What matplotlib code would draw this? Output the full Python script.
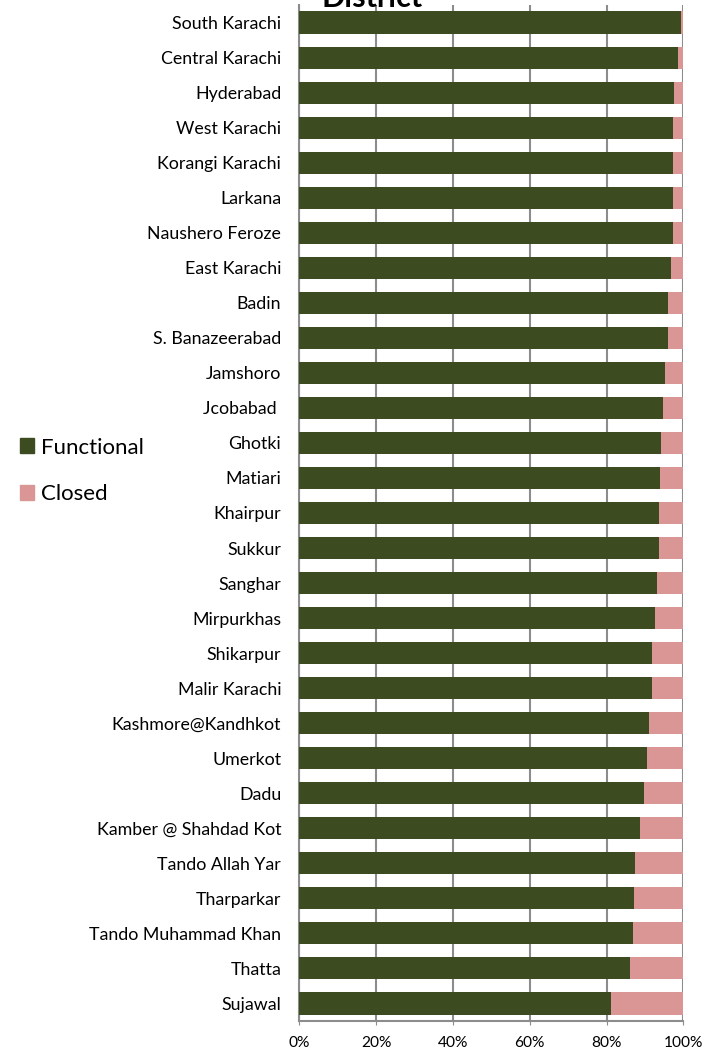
import matplotlib
matplotlib.use("Agg")
import matplotlib.pyplot as plt
from matplotlib.patches import Patch

districts = ["South Karachi", "Central Karachi", "Hyderabad", "West Karachi",
             "Korangi Karachi", "Larkana", "Naushero Feroze", "East Karachi",
             "Badin", "S. Banazeerabad", "Jamshoro", "Jcobabad ", "Ghotki",
             "Matiari", "Khairpur", "Sukkur", "Sanghar", "Mirpurkhas",
             "Shikarpur", "Malir Karachi", "Kashmore@Kandhkot", "Umerkot",
             "Dadu", "Kamber @ Shahdad Kot", "Tando Allah Yar", "Tharparkar",
             "Tando Muhammad Khan", "Thatta", "Sujawal"]
functional = [99.4, 98.7, 97.6, 97.4, 97.3, 97.3, 97.2, 96.8, 96.1, 96.0,
              95.2, 94.7, 94.2, 94.0, 93.8, 93.7, 93.1, 92.6, 91.8, 91.8,
              91.0, 90.5, 89.8, 88.8, 87.3, 87.1, 86.9, 86.1, 81.2]
closed = [100 - v for v in functional]

green = "#3D4B20"
pink = "#D99694"
grid_col = "#8C8C8C"

plt.rcParams["font.family"] = ["Lato", "DejaVu Sans"]

fig = plt.figure(figsize=(7.09, 10.52), dpi=100)
ax = fig.add_axes([299.3 / 709, 1 - 1021 / 1052, 384 / 709, (1021 - 5) / 1052])

y = list(range(len(districts)))
ax.barh(y, functional, height=0.63, color=green, zorder=3)
ax.barh(y, closed, left=functional, height=0.63, color=pink, zorder=3)

ax.set_ylim(len(districts) - 0.5, -0.5)
ax.set_xlim(0, 100)
ax.set_xticks(range(0, 101, 20))
ax.set_xticklabels([f"{t}%" for t in range(0, 101, 20)], fontsize=11.2)
ax.set_yticks(y)
ax.set_yticklabels(districts, fontsize=12.8)
ax.tick_params(axis="y", length=0, pad=13)
ax.tick_params(axis="x", length=3, color=grid_col, pad=8)

ax.grid(axis="x", color=grid_col, linewidth=1.5, zorder=0)
for s in ["top", "right"]:
    ax.spines[s].set_visible(False)
ax.spines["left"].set_color(grid_col)
ax.spines["left"].set_linewidth(1.5)
ax.spines["bottom"].set_color(grid_col)
ax.spines["bottom"].set_linewidth(1.5)

# title sits partly above the top edge, as in the source image
fig.text(372 / 709, 1 - 7 / 1052, "District", ha="center", va="baseline",
         fontsize=22, fontweight="bold")

handles = [Patch(color=green, label="Functional"), Patch(color=pink, label="Closed")]
fig.legend(handles=handles, loc="center left", bbox_to_anchor=(0 / 709, 1 - 471 / 1052),
           frameon=False, fontsize=16, handlelength=0.65, handleheight=0.65,
           handletextpad=0.3, labelspacing=1.2)

fig.savefig("out.png", dpi=100)
